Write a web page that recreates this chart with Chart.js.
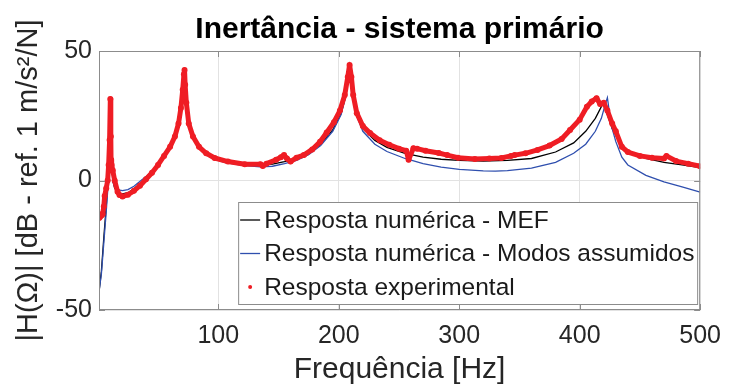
<!DOCTYPE html>
<html>
<head>
<meta charset="utf-8">
<script src="https://cdn.jsdelivr.net/npm/chart.js@4.4.1/dist/chart.umd.min.js"></script>
<style>
  html, body { margin: 0; padding: 0; background: #fff; }
  #wrap { width: 732px; height: 388px; }
</style>
</head>
<body>
<div id="wrap"><canvas id="inertChart" width="732" height="388"></canvas></div>
<script>
// ===== Dados =====
const seriesLabels = [
  "Resposta numérica - MEF",
  "Resposta numérica - Modos assumidos",
  "Resposta experimental"
];

// MEF (linha preta)
const freqMef = [1, 3, 5, 7, 8.5, 9.5, 10.2, 10.6, 11, 11.5, 12.5, 14, 17, 20.5, 25, 30, 40, 50, 58, 64, 68, 70, 71.3, 72, 73.5, 76, 80, 87, 95, 105, 120, 135, 145, 155, 165, 175, 185, 195, 202, 206, 208.8, 211, 214, 220, 230, 240, 255, 270, 285, 300, 320, 340, 360, 380, 395, 405, 413, 418, 420, 422.5, 427, 433, 440, 455, 470, 485, 500];
const magMef = [-43, -35, -22, -10, 0, 12, 22, 28.4, 20, 8, 0, -3, -4.8, -5.2, -4.7, -3.2, 0.8, 5.5, 11, 16.5, 23, 30, 40.5, 34, 27, 21, 16, 11.5, 9, 7.5, 6.3, 6, 6.3, 7.3, 8.5, 10.5, 14, 19.5, 26, 33, 44, 35, 27, 20, 15.5, 12.8, 10.5, 9, 8.2, 7.8, 7.5, 7.8, 8.5, 11, 14.5, 19, 24, 28.5, 29.8, 26, 20, 15, 11.5, 8.5, 7, 6, 5];

// Modos assumidos (linha azul)
const freqModos = [1, 3, 5, 7, 8.5, 9.5, 10.2, 10.6, 11, 11.5, 12.5, 14, 17, 20.5, 25, 30, 40, 50, 58, 64, 68, 70, 71.2, 72, 73.5, 76, 80, 87, 95, 105, 120, 135, 145, 155, 165, 175, 185, 195, 202, 206, 208.8, 211, 214, 220, 230, 240, 255, 270, 285, 300, 320, 330, 340, 360, 380, 395, 405, 413, 418, 421, 423, 424.5, 427, 430, 435, 440, 455, 470, 485, 500];
const magModos = [-43, -36, -24, -12, -2, 10, 20, 25, 18, 7, -0.5, -2.5, -3.6, -3.9, -3.5, -2.2, 1.5, 6, 11.5, 17, 23.5, 30, 39, 33, 26, 20, 15.5, 11, 8.5, 7, 5.8, 5.3, 5.5, 6.5, 7.8, 10, 13.5, 19, 25.5, 33, 43, 34, 26, 19, 14, 11.2, 8.5, 6.5, 5.2, 4.3, 3.7, 3.6, 3.8, 4.8, 7, 10.5, 14, 19, 24, 29, 32, 27, 20, 15, 9, 6, 2, -0.5, -2.5, -4.5];

// Experimental (pontos vermelhos)
const freqExp = [1, 1.5, 2, 3, 4, 5, 5.7, 7, 8.2, 9, 9.8, 10.4, 10.8, 11, 11.5, 12.4, 14, 16.4, 18, 20.5, 25, 30, 35, 40, 45, 50, 55, 60, 64, 67, 69, 70.5, 71.5, 72, 72.5, 73.5, 75.5, 79, 84, 90, 97, 108, 122, 135, 137, 140, 148, 152, 154.6, 157, 160, 165, 171, 178, 184.5, 190, 196, 201, 205, 207.5, 209, 210.5, 212, 215, 220, 226, 234, 242, 250, 256, 258, 262, 265, 272, 283, 290, 299, 313, 325, 335, 343, 346, 355, 365, 375, 385, 392, 400, 406, 410, 414, 417, 420, 423, 427, 430, 435, 440, 450, 460, 470, 472, 480, 490, 500];
const magExp = [-14.5, -13, -14, -13.5, -13, -10, -6, -3, 0, 6, 15.6, 31.5, 17, 8, 6, 4, 0, -4.3, -5.6, -6.2, -5.5, -4, -2, 0.5, 3, 6, 9.5, 13, 17, 22, 28, 35, 41, 42.7, 37, 30, 22, 17, 13, 10.5, 8.7, 7.3, 6.3, 6.3, 5.6, 6.5, 8, 9, 9.8, 8.5, 7.3, 8.8, 9.8, 12, 15, 18.5, 22.5, 27, 33, 40, 44.6, 40, 33, 26, 21, 18.3, 15.5, 13.8, 12.3, 11.5, 8, 12.5, 12.3, 11.5, 10.6, 9.8, 8.8, 8.3, 8.5, 8.7, 9.5, 9.8, 10.5, 11.8, 13.5, 16, 19.5, 23.5, 28.5, 30.5, 31.8, 29.5, 30, 27, 22, 19, 13, 11, 9.5, 8.8, 8.5, 9.5, 7.5, 6.5, 5.5];

const xTicks = [100, 200, 300, 400, 500];
const yTicks = [-50, 0, 50];

const toPoints = (xs, ys) => xs.map((x, i) => ({ x: x, y: ys[i] }));

// ===== Moldura (caixa) e marcas internas =====
const boxPlugin = {
  id: "boxPlugin",
  afterDatasetsDraw(chart) {
    const { ctx, chartArea: a, scales } = chart;
    ctx.save();
    ctx.strokeStyle = "#8c8c8c";
    ctx.lineWidth = 1;
    ctx.strokeRect(a.left + 0.5, a.top + 0.5, a.right - a.left - 1, a.bottom - a.top - 1);
    ctx.beginPath();
    xTicks.forEach(v => {
      const px = Math.round(scales.x.getPixelForValue(v)) + 0.5;
      ctx.moveTo(px, a.bottom); ctx.lineTo(px, a.bottom - 6);
      ctx.moveTo(px, a.top); ctx.lineTo(px, a.top + 6);
    });
    yTicks.forEach(v => {
      const py = Math.round(scales.y.getPixelForValue(v)) + 0.5;
      ctx.moveTo(a.left, py); ctx.lineTo(a.left + 6, py);
      ctx.moveTo(a.right, py); ctx.lineTo(a.right - 6, py);
    });
    ctx.stroke();
    ctx.restore();
  },
  afterDraw(chart) {
    // legenda no canto inferior direito da área do gráfico
    const { ctx, chartArea: a } = chart;
    const ds = chart.data.datasets;
    const rowH = 33.5;
    const w = 459, h = 102;
    const x0 = a.right - 3 - w, y0 = a.bottom - 6 - h;
    ctx.save();
    ctx.fillStyle = "#fff";
    ctx.fillRect(x0, y0, w, h);
    ctx.strokeStyle = "#8c8c8c";
    ctx.lineWidth = 1;
    ctx.strokeRect(x0 + 0.5, y0 + 0.5, w, h);
    ctx.font = "24.5px 'Liberation Sans', Arial, sans-serif";
    ctx.textBaseline = "middle";
    ds.forEach((d, i) => {
      const cy = y0 + 18 + i * rowH;
      if (d.pointRadius > 0) {
        ctx.fillStyle = d.pointBackgroundColor;
        ctx.beginPath();
        ctx.arc(x0 + 12, cy, 2, 0, Math.PI * 2);
        ctx.fill();
      } else {
        ctx.strokeStyle = d.borderColor;
        ctx.lineWidth = 1.3;
        ctx.beginPath();
        ctx.moveTo(x0 + 2, cy); ctx.lineTo(x0 + 22, cy);
        ctx.stroke();
      }
      ctx.fillStyle = "#1a1a1a";
      ctx.fillText(d.label, x0 + 26, cy + 1);
    });
    ctx.restore();
  }
};

new Chart(document.getElementById("inertChart"), {
  type: "scatter",
  data: {
    datasets: [
      {
        label: seriesLabels[0],
        data: toPoints(freqMef, magMef),
        showLine: true,
        borderColor: "#000000",
        borderWidth: 1.3,
        pointRadius: 0,
        order: 3
      },
      {
        label: seriesLabels[1],
        data: toPoints(freqModos, magModos),
        showLine: true,
        borderColor: "#2f4fae",
        borderWidth: 1.3,
        pointRadius: 0,
        order: 2
      },
      {
        label: seriesLabels[2],
        data: toPoints(freqExp, magExp),
        showLine: true,
        borderColor: "#ef1d24",
        borderWidth: 5,
        borderJoinStyle: "round",
        borderCapStyle: "round",
        pointRadius: 3,
        pointBorderWidth: 0,
        pointBackgroundColor: "#ef1d24",
        order: 1
      }
    ]
  },
  options: {
    responsive: false,
    animation: false,
    devicePixelRatio: 1,
    layout: { padding: { left: 0, right: 24, top: 0, bottom: 0 } },
    plugins: {
      legend: { display: false },
      tooltip: { enabled: false },
      title: {
        display: true,
        fullSize: false,
        text: "Inertância - sistema primário",
        color: "#000",
        font: { family: "'Liberation Sans', Arial, sans-serif", size: 30, weight: "bold" },
        padding: { top: 12, bottom: 3 }
      }
    },
    scales: {
      x: {
        type: "linear",
        min: 1,
        max: 500,
        afterBuildTicks: axis => { axis.ticks = xTicks.map(v => ({ value: v })); },
        afterFit: scale => { scale.height = 78; },
        grid: { color: "#e2e2e2", drawTicks: false },
        border: { display: false },
        ticks: {
          color: "#262626",
          padding: 11,
          maxRotation: 0,
          font: { family: "'Liberation Sans', Arial, sans-serif", size: 25 }
        },
        title: {
          display: true,
          text: "Frequência [Hz]",
          color: "#262626",
          padding: { top: 0, bottom: 0 },
          font: { family: "'Liberation Sans', Arial, sans-serif", size: 30 }
        }
      },
      y: {
        min: -50,
        max: 50,
        afterBuildTicks: axis => { axis.ticks = yTicks.map(v => ({ value: v })); },
        afterFit: scale => { scale.width = 99; },
        grid: { color: "#e2e2e2", drawTicks: false },
        border: { display: false },
        ticks: {
          color: "#262626",
          padding: 7,
          font: { family: "'Liberation Sans', Arial, sans-serif", size: 25 }
        },
        title: {
          display: true,
          text: "|H(Ω)| [dB - ref. 1 m/s²/N]",
          color: "#262626",
          padding: { top: 12, bottom: 0 },
          font: { family: "'Liberation Sans', Arial, sans-serif", size: 29 }
        }
      }
    }
  },
  plugins: [boxPlugin]
});
</script>
</body>
</html>
